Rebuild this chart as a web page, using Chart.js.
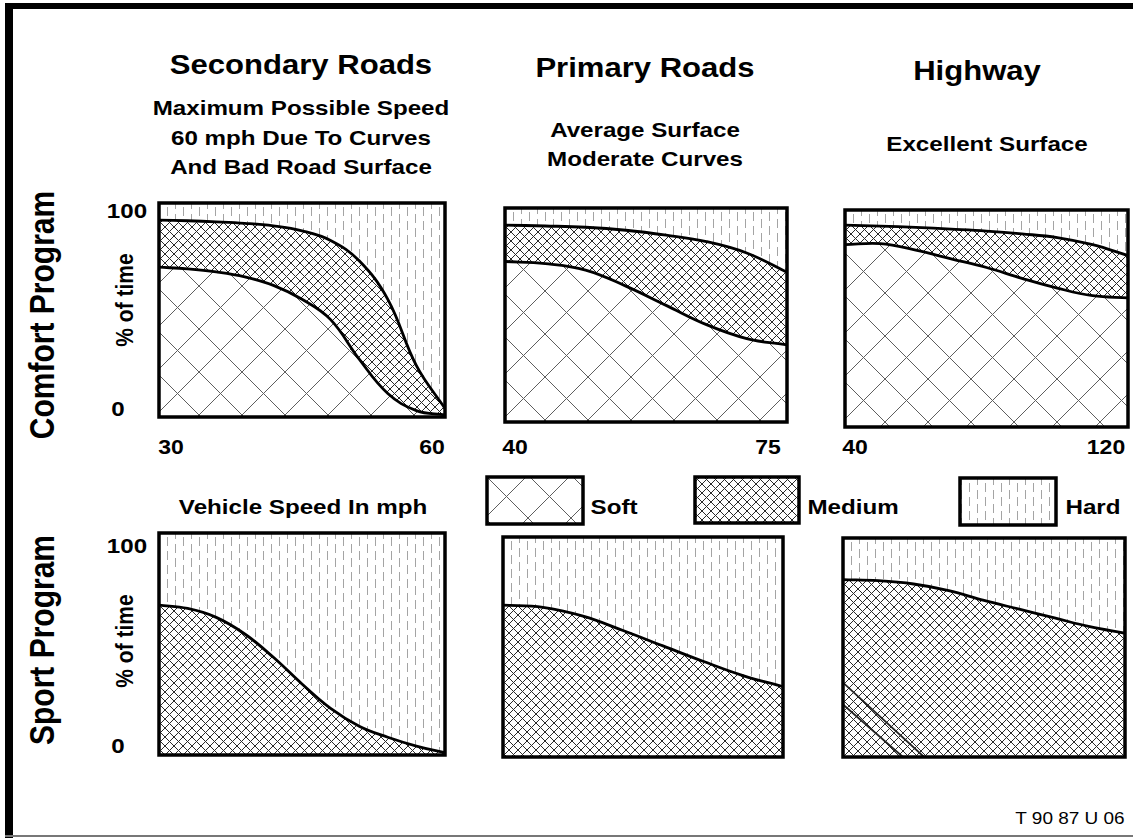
<!DOCTYPE html>
<html>
<head>
<meta charset="utf-8">
<script src="https://cdn.jsdelivr.net/npm/chart.js@4.4.1/dist/chart.umd.min.js"></script>
<style>
  html, body { margin: 0; padding: 0; background: #fff; }
  #page { position: relative; width: 1133px; height: 838px; overflow: hidden; background: #fff;
          font-family: "Liberation Sans", Arial, Helvetica, sans-serif; color: #000; }
  .t { position: absolute; white-space: nowrap; font-weight: bold; line-height: 1; }
  canvas { position: absolute; }
  .rule { position: absolute; background: #000; }
</style>
</head>
<body>
<div id="page">
  <div class="rule" style="left:5px;top:3px;width:1128px;height:6px;"></div>
  <div class="rule" style="left:5px;top:3px;width:8px;height:835px;"></div>
  <div class="rule" style="left:5px;top:835px;width:1128px;height:2px;background:#777;"></div>
</div>
<script>
// road types (columns) and programs (rows)
const roadTitles = ['Secondary Roads', 'Primary Roads', 'Highway'];
const roadNotes = [
    ['Maximum Possible Speed', '60 mph Due To Curves', 'And Bad Road Surface'],
    ['Average Surface', 'Moderate Curves'],
    ['Excellent Surface']
];
const programNames = ['Comfort Program', 'Sport Program'];
const legendNames = ['Soft', 'Medium', 'Hard'];

// vehicle speed in mph
const secondarySpeeds = [30, 33, 36, 39, 42, 45, 48, 51, 54, 57, 60];
const primarySpeeds = [40, 45, 50, 55, 60, 65, 70, 75];
const highwaySpeeds = [40, 50, 60, 70, 80, 90, 100, 110, 120];

// comfort program: upper edge of Soft and of Medium (% of time)
const comfortSecondarySoft = [70, 69.2, 67.8, 65.5, 61.5, 55, 45.5, 27, 11, 3, 1];
const comfortSecondaryMedium = [92, 91.7, 91.2, 90.5, 89.3, 87, 82.5, 73, 55, 24, 4];
const comfortPrimarySoft = [75, 74, 71, 63.5, 54.5, 45.5, 39, 36];
const comfortPrimaryMedium = [92, 91.6, 91, 89.6, 87.3, 84.3, 79, 70];
const comfortHighwaySoft = [84, 84.5, 81.5, 77.5, 73.5, 68.5, 64, 60.5, 59.5];
const comfortHighwayMedium = [93, 92.6, 92, 91.2, 90.3, 89, 87.3, 84, 79];

// sport program: upper edge of Medium (% of time)
const sportSecondaryMedium = [67.5, 66, 62, 54.5, 44, 32, 21, 13, 8, 4, 1];
const sportPrimaryMedium = [69, 68, 64, 57.5, 50.5, 43.5, 37, 32];
const sportHighwayMedium = [81, 80.5, 79, 76, 71.5, 67.5, 63.5, 59.5, 56.5];

// two soft strokes left in the lower corner of the sport / highway panel
const sportHighwayStrokeSpeeds = [[40, 63], [40, 57]];
const sportHighwayStrokeValues = [[34, 0], [24, 0]];

// axis ends and tick labels
const speedRanges = [[30, 60], [40, 75], [40, 120]];
const xTickLabels = [['30', '60'], ['40', '75'], ['40', '120']];
const yTickLabels = ['0', '100'];
const yAxisTitle = '% of time';
const xAxisTitle = 'Vehicle Speed In mph';
const figureCode = 'T 90 87 U 06';

const page = document.getElementById('page');
const STRETCH = 1.15;

const addText = (str, cx, cy, size, opts = {}) => {
    const el = document.createElement('div');
    el.className = 't';
    el.textContent = str;
    el.style.fontSize = size + 'px';
    if (opts.normal) el.style.fontWeight = 'normal';
    el.style.left = cx + 'px';
    el.style.top = cy + 'px';
    el.style.transform = opts.vertical
        ? `translate(-50%, -50%) rotate(-90deg) scaleY(${STRETCH})`
        : `translate(-50%, -50%) scaleX(${STRETCH})`;
    page.appendChild(el);
};

const makePattern = (kind) => {
    const c = document.createElement('canvas');
    const ctx = c.getContext('2d');
    if (kind === 'soft' || kind === 'medium') {
        const s = kind === 'soft' ? 43 : 9;
        c.width = s; c.height = s;
        ctx.fillStyle = '#fff'; ctx.fillRect(0, 0, s, s);
        ctx.strokeStyle = kind === 'soft' ? '#5e5e5e' : '#2a2a2a';
        ctx.lineWidth = 1;
        ctx.beginPath();
        [-s, 0, s].forEach(o => {
            ctx.moveTo(o, 0); ctx.lineTo(o + s, s);
            ctx.moveTo(o + s, 0); ctx.lineTo(o, s);
        });
        ctx.stroke();
    } else {
        c.width = 16; c.height = 14;
        ctx.fillStyle = '#fff'; ctx.fillRect(0, 0, 16, 14);
        ctx.strokeStyle = '#a4a4a4'; ctx.lineWidth = 1;
        ctx.beginPath();
        ctx.moveTo(3.5, 0); ctx.lineTo(3.5, 9);
        ctx.moveTo(11.5, 7); ctx.lineTo(11.5, 14);
        ctx.moveTo(11.5, 0); ctx.lineTo(11.5, 2);
        ctx.stroke();
    }
    return ctx.createPattern(c, 'repeat');
};

const patterns = { soft: makePattern('soft'), medium: makePattern('medium'), hard: makePattern('hard') };

const framePlugin = {
    id: 'frame',
    afterDraw(chart) {
        const { ctx, chartArea: a } = chart;
        ctx.save();
        ctx.lineWidth = 3.5;
        ctx.strokeStyle = '#000';
        ctx.strokeRect(a.left, a.top, a.right - a.left, a.bottom - a.top);
        ctx.restore();
    }
};

const toPoints = (xs, ys) => xs.map((x, i) => ({ x, y: ys[i] }));

const curve = (label, points, fill, pattern, border) => ({
    label,
    data: points,
    fill,
    backgroundColor: pattern,
    borderColor: '#000',
    borderWidth: border,
    pointRadius: 0,
    tension: 0.4
});

const PAD = 3;
const drawPanel = (box, range, datasets) => {
    const canvas = document.createElement('canvas');
    canvas.width = box.w + PAD * 2;
    canvas.height = box.h + PAD * 2;
    canvas.style.left = (box.x - PAD) + 'px';
    canvas.style.top = (box.y - PAD) + 'px';
    page.appendChild(canvas);
    return new Chart(canvas, {
        type: 'line',
        data: { datasets },
        options: {
            responsive: false,
            animation: false,
            events: [],
            layout: { padding: PAD },
            plugins: { legend: { display: false }, tooltip: { enabled: false } },
            scales: {
                x: { type: 'linear', min: range[0], max: range[1], display: false },
                y: { min: 0, max: 100, display: false }
            }
        },
        plugins: [framePlugin]
    });
};

// plot boxes, pixels on the page
const comfortBoxes = [
    { x: 159, y: 203, w: 286, h: 214 },
    { x: 505, y: 208, w: 282, h: 214 },
    { x: 845, y: 210, w: 283, h: 217 }
];
const sportBoxes = [
    { x: 159, y: 533, w: 286, h: 222 },
    { x: 503, y: 537, w: 280, h: 220 },
    { x: 843, y: 538, w: 282, h: 219 }
];

const speeds = [secondarySpeeds, primarySpeeds, highwaySpeeds];
const comfortSoft = [comfortSecondarySoft, comfortPrimarySoft, comfortHighwaySoft];
const comfortMedium = [comfortSecondaryMedium, comfortPrimaryMedium, comfortHighwayMedium];
const sportMedium = [sportSecondaryMedium, sportPrimaryMedium, sportHighwayMedium];

speeds.forEach((xs, i) => {
    const soft = toPoints(xs, comfortSoft[i]);
    const medium = toPoints(xs, comfortMedium[i]);
    drawPanel(comfortBoxes[i], speedRanges[i], [
        curve(legendNames[0], soft, 'origin', patterns.soft, 2.8),
        curve(legendNames[1], medium, '-1', patterns.medium, 2.8),
        curve(legendNames[2], medium, 'end', patterns.hard, 0)
    ]);
    const sport = toPoints(xs, sportMedium[i]);
    const sets = [
        curve(legendNames[1], sport, 'origin', patterns.medium, 2.8),
        curve(legendNames[2], sport, 'end', patterns.hard, 0)
    ];
    if (i === 2) {
        sportHighwayStrokeSpeeds.forEach((sx, k) => {
            const stroke = curve(legendNames[0], toPoints(sx, sportHighwayStrokeValues[k]), false, 'transparent', 1.8);
            stroke.tension = 0;
            stroke.borderColor = '#222';
            sets.unshift(stroke);
        });
    }
    drawPanel(sportBoxes[i], speedRanges[i], sets);
});

// legend swatches
const swatches = [
    { x: 487, y: 477, w: 96, h: 47, p: patterns.soft, tx: 614 },
    { x: 695, y: 477, w: 104, h: 46, p: patterns.medium, tx: 853 },
    { x: 960, y: 478, w: 96, h: 47, p: patterns.hard, tx: 1093 }
];
swatches.forEach((s, i) => {
    const c = document.createElement('canvas');
    c.width = s.w + 4; c.height = s.h + 4;
    c.style.left = (s.x - 2) + 'px';
    c.style.top = (s.y - 2) + 'px';
    const ctx = c.getContext('2d');
    ctx.fillStyle = s.p;
    ctx.fillRect(2, 2, s.w, s.h);
    ctx.lineWidth = 3.5;
    ctx.strokeRect(2, 2, s.w, s.h);
    page.appendChild(c);
    addText(legendNames[i], s.tx, 506, 21);
});

// headings
const titleX = [301, 645, 977];
const titleY = [65, 68, 71];
const noteY = [[107, 137, 166], [129, 158], [143]];
roadTitles.forEach((t, i) => {
    addText(t, titleX[i], titleY[i], 27);
    roadNotes[i].forEach((n, j) => addText(n, titleX[i] + (i === 2 ? 10 : 0), noteY[i][j], 21));
});

// row labels and axis texts
addText(programNames[0], 42, 315, 30, { vertical: true });
addText(programNames[1], 42, 640, 30, { vertical: true });
addText(yAxisTitle, 124, 300, 21, { vertical: true });
addText(yAxisTitle, 124, 641, 21, { vertical: true });
[[210, 408], [545, 745]].forEach(([top, bottom]) => {
    addText(yTickLabels[1], 127, top, 21);
    addText(yTickLabels[0], 118, bottom, 21);
});
const xTickPos = [[171, 432], [515, 768], [855, 1106]];
xTickLabels.forEach((pair, i) => {
    addText(pair[0], xTickPos[i][0], 447, 20);
    addText(pair[1], xTickPos[i][1], 447, 20);
});
addText(xAxisTitle, 303, 506, 21);
addText(figureCode, 1070, 818, 16.5, { normal: true });
</script>
</body>
</html>
